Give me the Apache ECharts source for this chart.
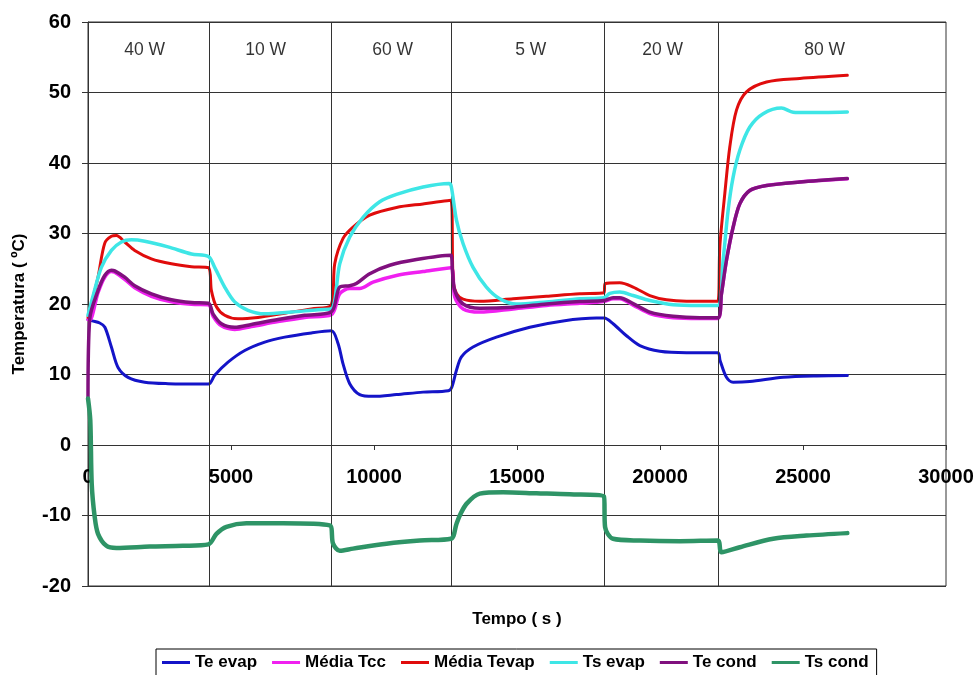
<!DOCTYPE html>
<html>
<head>
<meta charset="utf-8">
<script src="https://cdn.jsdelivr.net/npm/echarts@6/dist/echarts.min.js"></script>
<style>
  html, body { margin: 0; padding: 0; background: #fff; }
  #chart { width: 977px; height: 675px; }
</style>
</head>
<body>
<div id="chart"></div>
<script>
// Time (s) vs temperature (ºC) readings for each sensor
const teEvap = [[0,17.8],[150,17.6],[410,17.3],[590,16.7],[818,13.9],[1050,11.0],[1400,9.6],[1983,8.9],[2800,8.7],[4210,8.65],[4430,9.9],[4896,11.75],[5480,13.4],[6180,14.6],[6879,15.3],[7812,15.9],[8510,16.2],[8743,14.4],[8918,11.5],[9151,8.7],[9500,7.15],[9966,6.9],[10785,7.15],[11715,7.5],[12600,7.7],[12720,8.2],[12883,10.6],[13057,12.5],[13463,13.9],[14282,15.3],[15447,16.7],[16611,17.6],[17777,18.0],[18050,18.0],[18360,17.2],[18828,15.5],[19294,14.1],[19993,13.3],[20926,13.1],[22020,13.1],[22100,12.0],[22324,9.6],[22557,8.9],[23140,9.0],[24305,9.6],[25470,9.8],[26550,9.85]];

const mediaTcc = [[0,17.8],[60,17.7],[350,21.6],[584,23.8],[818,24.6],[934,24.5],[1283,23.5],[1633,22.3],[2217,21.1],[2916,20.3],[3616,19.95],[4210,19.9],[4371,18.3],[4665,16.9],[5130,16.4],[5713,16.8],[6645,17.5],[7578,18.1],[8510,18.5],[8802,21.45],[9151,22.2],[9500,22.2],[9966,23.1],[10785,24.05],[11715,24.6],[12690,25.15],[12824,21.0],[13116,19.3],[13698,18.85],[14863,19.3],[16029,19.8],[17195,20.1],[18040,20.35],[18360,20.75],[18594,20.75],[19060,19.85],[19643,18.65],[20459,18.05],[21392,17.95],[22020,17.95],[22149,21.45],[22324,26.2],[22557,30.9],[22790,34.2],[23140,36.1],[23724,36.8],[24890,37.3],[26550,37.75]];

const mediaTevap = [[0,18.1],[150,20.5],[350,23.8],[584,28.6],[818,29.6],[993,29.7],[1283,28.8],[1633,27.6],[2217,26.4],[2916,25.7],[3616,25.3],[4210,25.15],[4315,21.9],[4490,19.6],[4780,18.4],[5246,17.9],[5945,18.1],[6879,18.7],[7812,19.3],[8510,19.9],[8627,25.7],[8918,29.3],[9267,30.9],[9850,32.6],[10785,33.7],[11715,34.2],[12690,34.7],[12766,23.3],[12883,21.5],[13116,20.7],[13698,20.4],[14863,20.75],[16029,21.1],[17195,21.45],[18040,21.6],[18080,22.9],[18594,23.0],[19060,22.4],[19643,21.2],[20226,20.6],[20926,20.4],[22020,20.4],[22091,28.1],[22266,35.65],[22441,42.3],[22674,47.5],[23024,50.1],[23724,51.5],[24890,52.0],[26550,52.45]];

const tsEvap = [[0,18.4],[200,21.5],[468,25.2],[818,27.6],[1168,28.8],[1517,29.1],[1983,28.9],[2798,28.1],[3616,27.1],[4210,26.75],[4430,25.2],[4780,22.4],[5130,20.3],[5595,19.1],[6179,18.6],[7113,18.85],[8043,19.2],[8510,19.3],[8802,25.7],[9151,29.5],[9617,32.3],[10200,34.5],[10785,35.55],[11715,36.6],[12620,37.1],[12700,36.7],[12883,31.9],[13116,28.55],[13463,25.2],[13930,22.4],[14397,20.75],[14980,20.0],[16029,20.3],[17195,20.75],[18040,20.9],[18245,21.5],[18594,21.7],[19060,21.2],[19643,20.5],[20459,19.9],[21392,19.8],[22020,19.8],[22207,26.2],[22382,33.3],[22557,38.0],[22790,41.8],[23140,45.1],[23606,47.0],[24248,47.8],[24655,47.2],[25121,47.15],[26550,47.25]];

const teCond = [[0,6.8],[60,17.9],[350,21.9],[584,24.05],[818,24.8],[934,24.7],[1283,23.8],[1633,22.6],[2217,21.45],[2916,20.6],[3616,20.2],[4210,20.1],[4371,18.6],[4665,17.2],[5130,16.7],[5713,17.1],[6645,17.8],[7578,18.4],[8510,18.9],[8802,22.4],[9151,22.6],[9384,22.9],[9850,24.3],[10550,25.5],[11483,26.3],[12690,26.9],[12740,24.8],[12824,21.9],[13116,20.0],[13698,19.4],[14863,19.55],[16029,20.0],[17195,20.35],[18040,20.5],[18360,20.9],[18594,20.9],[19060,20.05],[19643,18.85],[20459,18.25],[21392,18.05],[22020,18.05],[22149,21.45],[22324,26.2],[22557,30.9],[22790,34.2],[23140,36.1],[23724,36.8],[24890,37.3],[26550,37.8]];

const tsCond = [[0,6.6],[80,3.5],[130,-5.5],[234,-10.2],[350,-12.6],[643,-14.3],[993,-14.6],[2158,-14.4],[3322,-14.3],[4210,-14.1],[4490,-12.6],[4840,-11.6],[5539,-11.1],[6819,-11.1],[8452,-11.4],[8568,-14.0],[8802,-15.0],[9267,-14.7],[10435,-14.0],[11600,-13.55],[12690,-13.3],[12883,-11.2],[12999,-10.0],[13232,-8.35],[13698,-6.9],[14513,-6.7],[15681,-6.85],[16846,-7.0],[18040,-7.3],[18080,-11.65],[18360,-13.3],[19294,-13.55],[20692,-13.65],[22020,-13.55],[22149,-15.2],[22790,-14.5],[23955,-13.3],[25121,-12.85],[26550,-12.5]];

// Heater power steps: boundaries between steps and the label of each step
const phaseChanges = [4230, 8510, 12710, 18060, 22030];
const powerLabelX = [1983, 6213, 10654, 15479, 20094, 25759];
const powerLabelText = ['40 W', '10 W', '60 W', '5 W', '20 W', '80 W'];
const powerLabelY = 56;

// Axis ranges
const xTicks = { min: 0, max: 30000, interval: 5000 };
const yTicks = { min: -20, max: 60, interval: 10 };

const seriesDefs = [
  { name: 'Te evap', data: teEvap, color: '#1414c8', width: 3 },
  { name: 'Média Tcc', data: mediaTcc, color: '#f020f0', width: 3.5 },
  { name: 'Média Tevap', data: mediaTevap, color: '#e00c0c', width: 3 },
  { name: 'Ts evap', data: tsEvap, color: '#3ee6e6', width: 3.5 },
  { name: 'Te cond', data: teCond, color: '#80107e', width: 3.5 },
  { name: 'Ts cond', data: tsCond, color: '#2e9466', width: 4.5 }
];

const font = 'Liberation Sans, Arial, Helvetica, sans-serif';
const gridColor = '#333';

// Plot box in pixels; the time axis sits on the 0 ºC line
const plot = { left: 88, right: 31, top: 22, bottom: 89 };
const chartHeight = 675;
const plotHeight = chartHeight - plot.top - plot.bottom;
const zeroOffset = -plotHeight * (0 - yTicks.min) / (yTicks.max - yTicks.min);

const chart = echarts.init(document.getElementById('chart'), null, { renderer: 'canvas' });

const series = [
  {
    name: 'fases',
    type: 'line',
    data: [],
    silent: true,
    z: 1,
    markLine: {
      silent: true,
      symbol: ['none', 'none'],
      label: { show: false },
      lineStyle: { color: gridColor, width: 1, type: 'solid' },
      data: phaseChanges.map(x => ({ xAxis: x }))
    }
  },
  {
    name: 'potência',
    type: 'scatter',
    silent: true,
    symbolSize: 0,
    z: 1,
    data: powerLabelX.map((x, i) => [x, powerLabelY, powerLabelText[i]]),
    label: {
      show: true,
      position: 'inside',
      formatter: p => p.data[2],
      fontFamily: font,
      fontSize: 17.5,
      color: '#000'
    }
  }
].concat(seriesDefs.map((s, i) => ({
  name: s.name,
  type: 'line',
  data: s.data,
  symbol: 'none',
  showSymbol: false,
  smooth: 0.3,
  z: 2 + i,
  lineStyle: { color: s.color, width: s.width, join: 'round', cap: 'round' },
  itemStyle: { color: s.color }
})));

chart.setOption({
  animation: false,
  backgroundColor: '#fff',
  textStyle: { fontFamily: font },
  grid: {
    left: plot.left, right: plot.right, top: plot.top, bottom: plot.bottom,
    outerBoundsMode: 'none',
    containLabel: false,
    show: true, borderColor: gridColor, borderWidth: 1,
    backgroundColor: 'transparent'
  },
  legend: {
    data: seriesDefs.map(s => s.name),
    left: 156,
    top: 649,
    icon: 'rect',
    itemWidth: 28,
    itemHeight: 3,
    itemGap: 15,
    borderColor: '#000',
    borderWidth: 1,
    padding: [5, 8, 6, 6],
    textStyle: { fontFamily: font, fontSize: 17, fontWeight: 'bold', color: '#000' }
  },
  xAxis: {
    type: 'value',
    position: 'bottom',
    offset: zeroOffset,
    min: xTicks.min, max: xTicks.max, interval: xTicks.interval,
    axisLine: { onZero: false, lineStyle: { color: gridColor, width: 1 } },
    axisTick: { show: true, length: 5, lineStyle: { color: gridColor } },
    axisLabel: {
      fontFamily: font, fontSize: 20, fontWeight: 'bold', color: '#000', margin: 22,
      formatter: v => String(v)
    },
    splitLine: { show: false },
    name: 'Tempo ( s )',
    nameLocation: 'middle',
    nameGap: 166,
    nameTextStyle: { fontFamily: font, fontSize: 17, fontWeight: 'bold', color: '#000' }
  },
  yAxis: {
    type: 'value',
    min: yTicks.min, max: yTicks.max, interval: yTicks.interval,
    axisLine: { show: true, onZero: false, lineStyle: { color: gridColor, width: 1 } },
    axisTick: { show: true, length: 6, lineStyle: { color: gridColor } },
    axisLabel: { fontFamily: font, fontSize: 20, fontWeight: 'bold', color: '#000', margin: 17 },
    splitLine: { show: true, lineStyle: { color: gridColor, width: 1 } },
    name: 'Temperatura ( ºC)',
    nameLocation: 'middle',
    nameGap: 60,
    nameTextStyle: { fontFamily: font, fontSize: 17, fontWeight: 'bold', color: '#000' }
  },
  series: series
});
</script>
</body>
</html>
